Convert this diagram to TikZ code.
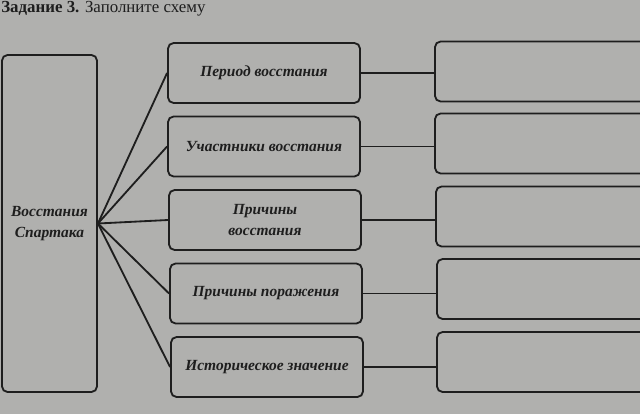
\documentclass[tikz,border=0pt]{standalone}
\usepackage{fontspec}
\setmainfont{Liberation Serif}
\usepackage{tikz}
\definecolor{paper}{RGB}{176,176,174}
\definecolor{ink}{RGB}{30,30,30}

\begin{document}
\begin{tikzpicture}[x=0.025cm, y=-0.025cm,
    box/.style={draw=ink, line width=1.3pt, rounded corners=4pt, align=center,
        font=\fontsize{11}{15}\selectfont\bfseries\itshape, text=ink,
        inner sep=0pt},
    midbox/.style={box, minimum width=4.8cm, minimum height=1.5cm},
    ansbox/.style={box, minimum width=5.4cm, minimum height=1.5cm},
    link/.style={draw=ink, line width=1.3pt}]
    \useasboundingbox (0,0) rectangle (640,414);
    \fill[paper] (0,0) rectangle (640,414);
    \clip (0,0) rectangle (640,414);
    % title
    \node[anchor=base west, inner sep=0pt, text=ink, font=\fontsize{12}{14}\selectfont]
        (title) at (1,13) {\textbf{Задание 3.} Заполните схему};
    % main box
    \node[box, minimum width=2.375cm, minimum height=8.425cm] (spartak) at (49.5,223.5)
        {Восстания\\Спартака};
    % questions
    \node[midbox] (period) at (264,73) {Период восстания};
    \node[midbox] (members) at (264,146.5) {Участники восстания};
    \node[midbox] (causes) at (265,220) {Причины\\восстания};
    \node[midbox] (defeat) at (266,293.5) {Причины поражения};
    \node[midbox] (meaning) at (267,367) {Историческое значение};
    % empty answers
    \node[ansbox] (ans1) at (543,71.5) {};
    \node[ansbox] (ans2) at (543,143.5) {};
    \node[ansbox] (ans3) at (544,216.5) {};
    \node[ansbox] (ans4) at (545,289) {};
    \node[ansbox] (ans5) at (545,362) {};
    % links
    \foreach \q/\a in {period/ans1, members/ans2, causes/ans3, defeat/ans4, meaning/ans5} {
        \draw[link] (spartak.east) -- (\q.west);
        \draw[link] (\q.east) -- (\q.east -| \a.west);
    }
\end{tikzpicture}
\end{document}
